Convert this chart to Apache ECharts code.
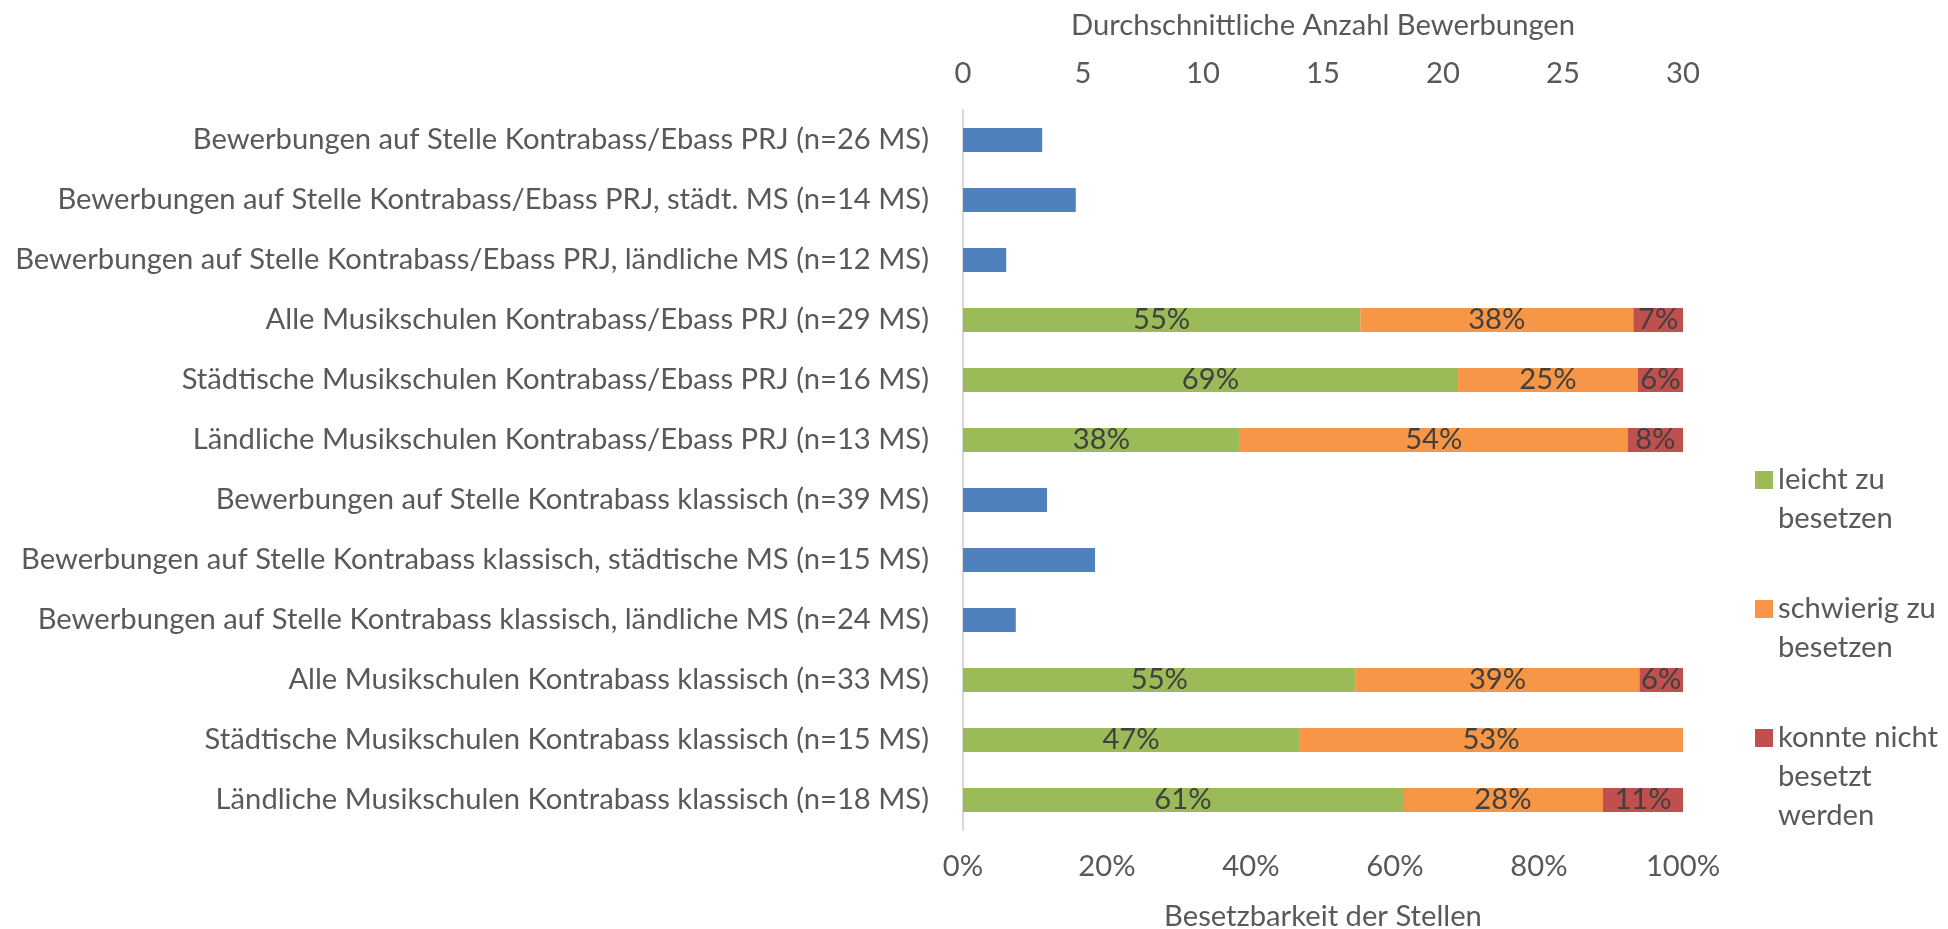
<!DOCTYPE html>
<html>
<head>
<meta charset="utf-8">
<script src="https://cdn.jsdelivr.net/npm/echarts@6/dist/echarts.min.js"></script>
<style>
html,body{margin:0;padding:0;background:#fff;}
#chart{width:1948px;height:929px;}
</style>
</head>
<body>
<div id="chart"></div>
<script>
const categories = [
  'Bewerbungen auf Stelle Kontrabass/Ebass PRJ (n=26 MS)',
  'Bewerbungen auf Stelle Kontrabass/Ebass PRJ, städt. MS (n=14 MS)',
  'Bewerbungen auf Stelle Kontrabass/Ebass PRJ, ländliche MS (n=12 MS)',
  'Alle Musikschulen Kontrabass/Ebass PRJ (n=29 MS)',
  'Städtische Musikschulen Kontrabass/Ebass PRJ (n=16 MS)',
  'Ländliche Musikschulen Kontrabass/Ebass PRJ (n=13 MS)',
  'Bewerbungen auf Stelle Kontrabass klassisch (n=39 MS)',
  'Bewerbungen auf Stelle Kontrabass klassisch, städtische MS (n=15 MS)',
  'Bewerbungen auf Stelle Kontrabass klassisch, ländliche MS (n=24 MS)',
  'Alle Musikschulen Kontrabass klassisch (n=33 MS)',
  'Städtische Musikschulen Kontrabass klassisch (n=15 MS)',
  'Ländliche Musikschulen Kontrabass klassisch (n=18 MS)'
];
// average number of applications (top axis)
const bewerbungen = [3.3, 4.7, 1.8, null, null, null, 3.5, 5.5, 2.2, null, null, null];
// share of positions (percent, bottom axis)
const leicht     = [null, null, null, 55.17, 68.75, 38.46, null, null, null, 54.55, 46.67, 61.11];
const schwierig  = [null, null, null, 37.93, 25.00, 53.85, null, null, null, 39.39, 53.33, 27.78];
const nicht      = [null, null, null, 6.90, 6.25, 7.69, null, null, null, 6.06, 0, 11.11];
const seriesNames = ['leicht zu besetzen', 'schwierig zu besetzen', 'konnte nicht besetzt werden'];
const legendLabels = ['\nleicht zu\nbesetzen', '\nschwierig zu\nbesetzen', '\n\nkonnte nicht\nbesetzt\nwerden'];
const bottomTicks = [0, 20, 40, 60, 80, 100];
const topTicks = [0, 5, 10, 15, 20, 25, 30];

const FONT = 'Lato';
const FS = 29.2;
const GREY = '#595959';
const chart = echarts.init(document.getElementById('chart'), null, {renderer: 'canvas'});

const labelStyle = {
  show: true,
  position: 'inside',
  color: '#404040',
  fontFamily: FONT,
  fontSize: FS,
  formatter: p => (p.value ? Math.round(p.value) + '%' : '')
};

function legendFor(i, top) {
  return {
    data: [seriesNames[i]],
    left: 1755,
    top: top,
    padding: 0,
    orient: 'vertical',
    icon: 'rect',
    itemWidth: 18,
    itemHeight: 18,
    selectedMode: false,
    formatter: () => legendLabels[i],
    textStyle: {color: GREY, fontFamily: FONT, fontSize: FS, lineHeight: 39}
  };
}

chart.setOption({
  animation: false,
  backgroundColor: '#ffffff',
  textStyle: {fontFamily: FONT},
  grid: {left: 963, right: 265, top: 110, bottom: 99, containLabel: false, outerBoundsMode: 'none'},
  legend: [
    legendFor(0, 480 - 58.5),
    legendFor(1, 609 - 58.5),
    legendFor(2, 738 - 97.5)
  ],
  yAxis: {
    type: 'category',
    inverse: true,
    data: categories,
    axisLine: {show: true, lineStyle: {color: '#d9d9d9', width: 2}},
    axisTick: {show: false},
    axisLabel: {color: GREY, fontFamily: FONT, fontSize: FS, margin: 34}
  },
  xAxis: [
    {
      type: 'value',
      position: 'bottom',
      min: 0, max: 100, interval: 20,
      splitLine: {show: false},
      axisLine: {show: false},
      axisTick: {show: false},
      axisLabel: {color: GREY, fontFamily: FONT, fontSize: FS, margin: 22,
        formatter: v => (bottomTicks.indexOf(v) >= 0 ? v + '%' : '')},
      name: 'Besetzbarkeit der Stellen',
      nameLocation: 'middle',
      nameGap: 72,
      nameTextStyle: {color: GREY, fontFamily: FONT, fontSize: FS}
    },
    {
      type: 'value',
      position: 'top',
      min: 0, max: 30, interval: 5,
      splitLine: {show: false},
      axisLine: {show: false},
      axisTick: {show: false},
      axisLabel: {color: GREY, fontFamily: FONT, fontSize: FS, margin: 22,
        formatter: v => (topTicks.indexOf(v) >= 0 ? String(v) : '')},
      name: 'Durchschnittliche Anzahl Bewerbungen',
      nameLocation: 'middle',
      nameGap: 70,
      nameTextStyle: {color: GREY, fontFamily: FONT, fontSize: FS}
    }
  ],
  series: [
    {
      name: 'Bewerbungen', type: 'bar', xAxisIndex: 1, yAxisIndex: 0,
      data: bewerbungen, barWidth: 24, barGap: '-100%',
      itemStyle: {color: '#4F81BD'}
    },
    {
      name: seriesNames[0], type: 'bar', stack: 'b', xAxisIndex: 0, yAxisIndex: 0,
      data: leicht, barWidth: 24, barGap: '-100%',
      itemStyle: {color: '#9BBB59'}, label: labelStyle
    },
    {
      name: seriesNames[1], type: 'bar', stack: 'b', xAxisIndex: 0, yAxisIndex: 0,
      data: schwierig, barWidth: 24, barGap: '-100%',
      itemStyle: {color: '#F79646'}, label: labelStyle
    },
    {
      name: seriesNames[2], type: 'bar', stack: 'b', xAxisIndex: 0, yAxisIndex: 0,
      data: nicht, barWidth: 24, barGap: '-100%',
      itemStyle: {color: '#C0504D'}, label: labelStyle
    }
  ]
});
</script>
</body>
</html>
